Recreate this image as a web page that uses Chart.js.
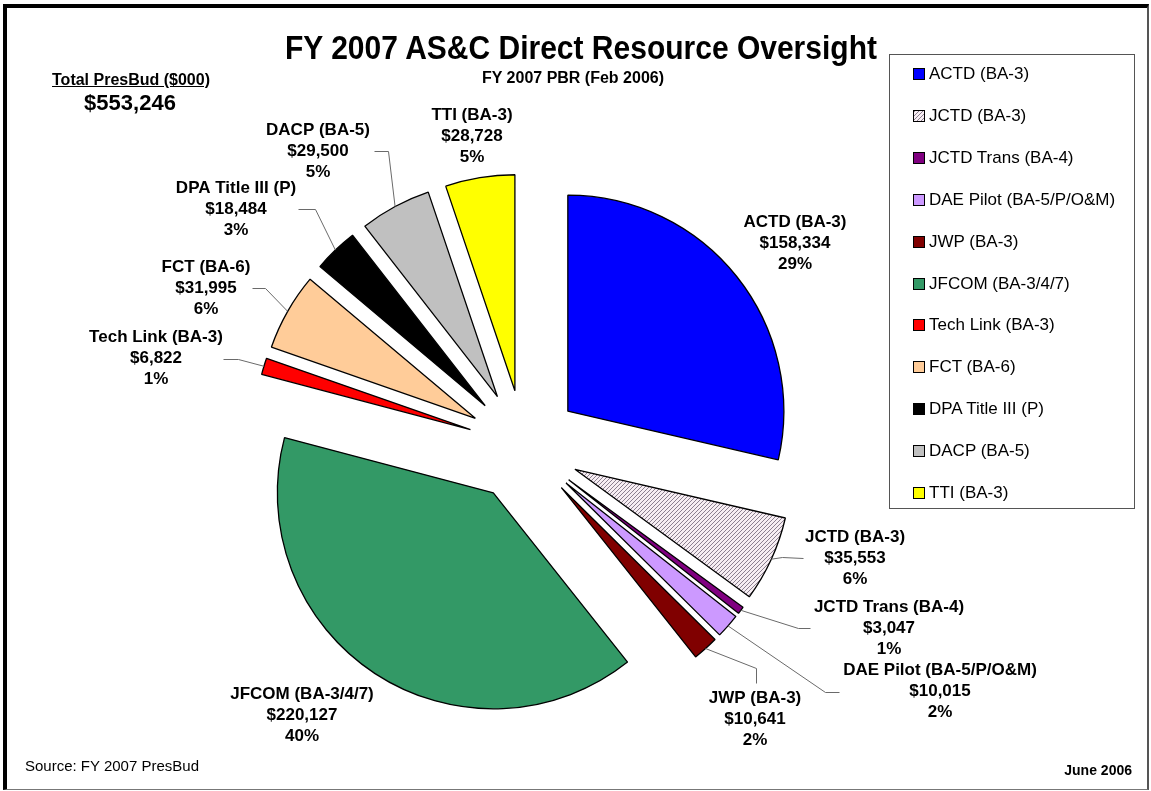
<!DOCTYPE html>
<html>
<head>
<meta charset="utf-8">
<title>FY 2007 AS&amp;C Direct Resource Oversight</title>
<script src="https://cdn.jsdelivr.net/npm/chart.js@4/dist/chart.umd.min.js"></script>
<style>
  html, body { margin: 0; padding: 0; background: #fff; }
  body { width: 1151px; height: 791px; position: relative; overflow: hidden;
         font-family: "Liberation Sans", Arial, sans-serif; color: #000; }
  #pie { position: absolute; left: 0; top: 0; }
  .frame { position: absolute; left: 3px; top: 4px; width: 1146px; height: 786px;
           border-left: 4px solid #000; border-top: 4px solid #000;
           border-right: 2px solid #555; border-bottom: 1px solid #777; box-sizing: border-box; }
  .txt { position: absolute; white-space: nowrap; line-height: 1; }
  #title { left: 581px; top: 48px; transform: translate(-50%, -50%) scaleY(1.12); font-weight: bold; font-size: 30px; }
  #subtitle { left: 573px; top: 78px; transform: translate(-50%, -50%); font-weight: bold; font-size: 16px; }
  #totalHead { left: 131px; top: 80px; transform: translate(-50%, -50%); font-weight: bold; font-size: 16px; text-decoration: underline; }
  #totalVal { left: 130px; top: 103px; transform: translate(-50%, -50%); font-weight: bold; font-size: 22px; }
  #source { left: 25px; top: 765px; transform: translateY(-50%); font-size: 15px; }
  #date { right: 19px; top: 770px; transform: translateY(-50%); font-weight: bold; font-size: 14px; }
  #legend { position: absolute; left: 889px; top: 54px; width: 246px; height: 455px;
            border: 1px solid #555; box-sizing: border-box; }
  .item { position: absolute; left: 23px; height: 20px; transform: translateY(-50%);
          display: flex; align-items: center; font-size: 17px; white-space: nowrap; }
  .sw { width: 10px; height: 10px; border: 1px solid #000; margin-right: 4px; flex: none; }
</style>
</head>
<body>
<canvas id="pie" width="1151" height="791"></canvas>
<div class="frame"></div>
<div class="txt" id="title">FY 2007 AS&amp;C Direct Resource Oversight</div>
<div class="txt" id="subtitle">FY 2007 PBR (Feb 2006)</div>
<div class="txt" id="totalHead">Total PresBud ($000)</div>
<div class="txt" id="totalVal"></div>
<div class="txt" id="source">Source: FY 2007 PresBud</div>
<div class="txt" id="date">June 2006</div>
<div id="legend"></div>

<script>
// Programme lines and their FY 2007 request ($000)
const categories = [
  'ACTD (BA-3)', 'JCTD (BA-3)', 'JCTD Trans (BA-4)', 'DAE Pilot (BA-5/P/O&M)',
  'JWP (BA-3)', 'JFCOM (BA-3/4/7)', 'Tech Link (BA-3)', 'FCT (BA-6)',
  'DPA Title III (P)', 'DACP (BA-5)', 'TTI (BA-3)'
];
const amounts = [158334, 35553, 3047, 10015, 10641, 220127, 6822, 31995, 18484, 29500, 28728];

// Slice fills (null = hatched fill)
const sliceColors = ['#0000FF', null, '#800080', '#CC99FF', '#800000', '#339966',
                     '#FF0000', '#FFCC99', '#000000', '#C0C0C0', '#FFFF00'];

// Label placement: centre x, middle of the first text line
const labelPos = [
  [795, 222], [855, 537], [889, 607], [940, 670], [755, 698], [302, 694],
  [156, 337], [206, 267], [236, 188], [318, 130], [472, 115]
];
// Leader lines: elbow and end points (start is the slice's outer mid-point)
const leaderPts = [
  null, [[782, 557], [803, 558]], [[798, 628], [810, 628]], [[825, 692], [839, 692]],
  [[756, 668], [756, 683]], null, [[238, 359], [223, 359]], [[265, 288], [252, 288]],
  [[315, 209], [298, 209]], [[388, 151], [374, 151]], null
];

const EXPLODE = 56;     // distance each slice is pulled out
const RADIUS = 216;
const LINE_H = 21;

const total = amounts.reduce((a, b) => a + b, 0);
const money = v => '$' + v.toLocaleString('en-US');
const pct = v => Math.round(v / total * 100) + '%';

document.getElementById('totalVal').textContent = money(total);

// Hatched fill: thin upward diagonals on a pale ground
function hatch() {
  const s = 4, c = document.createElement('canvas');
  c.width = s; c.height = s;
  const g = c.getContext('2d');
  g.fillStyle = '#f7eef3'; g.fillRect(0, 0, s, s);
  g.strokeStyle = '#8c8090'; g.lineWidth = 1;
  g.beginPath();
  g.moveTo(0, s); g.lineTo(s, 0);
  g.moveTo(-1, 1); g.lineTo(1, -1);
  g.moveTo(s - 1, s + 1); g.lineTo(s + 1, s - 1);
  g.stroke();
  return g.createPattern(c, 'repeat');
}
const pattern = hatch();
const fills = sliceColors.map(c => c || pattern);

// Legend
const legend = document.getElementById('legend');
categories.forEach((name, i) => {
  const it = document.createElement('div');
  it.className = 'item';
  it.style.top = (19 + i * 41.9) + 'px';
  const sw = document.createElement('span');
  sw.className = 'sw';
  sw.style.background = sliceColors[i] ||
    'repeating-linear-gradient(-45deg, #f7eef3 0 1.6px, #8c8090 1.6px 2.8px)';
  it.appendChild(sw);
  it.appendChild(document.createTextNode(name));
  legend.appendChild(it);
});

// Pull every slice outward along its bisector
const explodePlugin = {
  id: 'explode',
  afterDatasetUpdate(chart, args) {
    args.meta.data.forEach(arc => {
      const mid = (arc.startAngle + arc.endAngle) / 2;
      arc.x += Math.cos(mid) * EXPLODE;
      arc.y += Math.sin(mid) * EXPLODE;
    });
  }
};

// Data labels with leader lines
const labelPlugin = {
  id: 'sliceLabels',
  afterDatasetsDraw(chart) {
    const ctx = chart.ctx;
    const arcs = chart.getDatasetMeta(0).data;
    ctx.save();
    ctx.strokeStyle = '#6a6a6a';
    ctx.lineWidth = 1;
    arcs.forEach((arc, i) => {
      const pts = leaderPts[i];
      if (!pts) return;
      const mid = (arc.startAngle + arc.endAngle) / 2;
      const sx = arc.x + Math.cos(mid) * arc.outerRadius;
      const sy = arc.y + Math.sin(mid) * arc.outerRadius;
      ctx.beginPath();
      ctx.moveTo(sx, sy);
      pts.forEach(p => ctx.lineTo(p[0] + 0.5, p[1] + 0.5));
      ctx.stroke();
    });
    ctx.fillStyle = '#000';
    ctx.font = 'bold 17px "Liberation Sans", Arial, sans-serif';
    ctx.textAlign = 'center';
    ctx.textBaseline = 'middle';
    amounts.forEach((v, i) => {
      const [x, y] = labelPos[i];
      [categories[i], money(v), pct(v)].forEach((t, k) => ctx.fillText(t, x, y + k * LINE_H));
    });
    ctx.restore();
  }
};

new Chart(document.getElementById('pie'), {
  type: 'pie',
  data: {
    labels: categories,
    datasets: [{
      data: amounts,
      backgroundColor: fills,
      borderColor: '#000',
      borderWidth: 1.3
    }]
  },
  options: {
    responsive: false,
    animation: false,
    events: [],
    radius: RADIUS,
    layout: { padding: { left: 0, right: 103, top: 101, bottom: 0 } },
    plugins: { legend: { display: false }, tooltip: { enabled: false }, title: { display: false } }
  },
  plugins: [explodePlugin, labelPlugin]
});
</script>
</body>
</html>
